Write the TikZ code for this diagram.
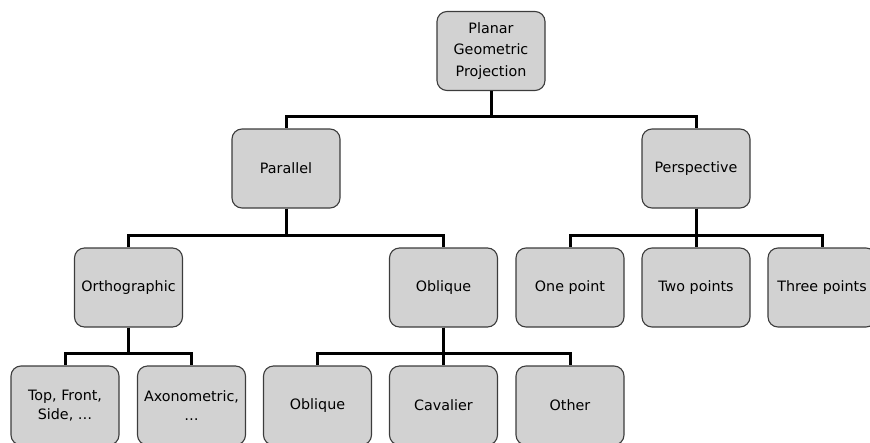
\documentclass[tikz,border=0pt]{standalone}
\usepackage{fontspec}
\setmainfont{DejaVu Sans}
\definecolor{boxfill}{RGB}{210,210,210}
\definecolor{boxline}{RGB}{60,60,60}
\tikzset{
  pbox/.style={draw=boxline, line width=1.1pt, fill=boxfill, rounded corners=10pt,
    minimum width=108pt, minimum height=79pt, inner sep=0pt, align=center,
    font=\fontsize{14.3}{21.5}\selectfont},
  lowbox/.style={pbox, font=\fontsize{14.3}{18.5}\selectfont},
  conn/.style={line width=3pt, black}
}
\begin{document}
\begin{tikzpicture}[x=1pt,y=-1pt]
\path[use as bounding box, clip] (0,0) rectangle (870,442);
\node[pbox] (root) at (491,51) {Planar\\Geometric\\Projection};
\node[pbox] (par) at (286,168.5) {Parallel};
\node[pbox] (persp) at (696,168.5) {Perspective};
\node[pbox] (ortho) at (128.5,287.5) {Orthographic};
\node[pbox] (obl) at (443.5,287.5) {Oblique};
\node[pbox] (one) at (570,287.5) {One point};
\node[pbox] (two) at (696,287.5) {Two points};
\node[pbox] (three) at (822,287.5) {Three points};
\node[lowbox] (top) at (65,405.5) {Top, Front,\\Side, …};
\node[lowbox] (axo) at (191.5,405.5) {Axonometric,\\…};
\node[lowbox] (obl2) at (317.5,405.5) {Oblique};
\node[lowbox] (cav) at (443.5,405.5) {Cavalier};
\node[lowbox] (other) at (570,405.5) {Other};
\foreach \p/\c in {root/par, root/persp, par/ortho, par/obl, persp/one, persp/two, persp/three,
  ortho/top, ortho/axo, obl/obl2, obl/cav, obl/other}
  \draw[conn] (\p.south) |- ([yshift=12pt]\c.north) -- (\c.north);
\end{tikzpicture}
\end{document}
